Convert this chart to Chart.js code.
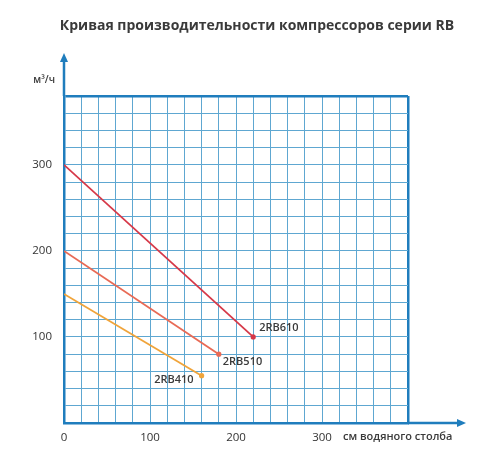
<!DOCTYPE html>
<html>
<head>
<meta charset="utf-8">
<script src="https://cdn.jsdelivr.net/npm/chart.js@4/dist/chart.umd.min.js"></script>
<style>
html,body{margin:0;padding:0;background:#fff;}
#wrap{width:500px;height:450px;position:relative;}
</style>
</head>
<body>
<div id="wrap"><canvas id="c" width="500" height="450"></canvas></div>
<script>
// ---- data ----
const chartTitle = 'Кривая производительности компрессоров серии RB';
const yUnit = 'м³/ч';
const xUnit = 'см водяного столба';
const seriesNames = ['2RB610', '2RB510', '2RB410'];
const pressure610 = [0, 220];
const flow610 = [300, 100];
const pressure510 = [0, 180];
const flow510 = [200, 80];
const pressure410 = [0, 160];
const flow410 = [150, 55];
const xTickLabels = [0, 100, 200, 300];
const yTickLabels = [100, 200, 300];

const colors = ['#d63848', '#e86a55', '#f0a43a'];
const labelOffsets = [
  {dx: 6, dy: -9, align: 'left'},
  {dx: 4, dy: 8, align: 'left'},
  {dx: -8, dy: 4, align: 'right'}
];

function pts(xs, ys) { return xs.map((x, i) => ({x: x, y: ys[i]})); }
const seriesData = [pts(pressure610, flow610), pts(pressure510, flow510), pts(pressure410, flow410)];

const gridColor = '#5ea7d1';
const frameColor = '#1f7dbd';

const decor = {
  id: 'decor',
  afterDraw(chart) {
    const ctx = chart.ctx;
    const a = chart.chartArea;
    ctx.save();
    // axis arrows
    ctx.strokeStyle = frameColor;
    ctx.fillStyle = frameColor;
    ctx.lineWidth = 2.5;
    ctx.beginPath();
    ctx.moveTo(a.left, a.top);
    ctx.lineTo(a.left, 60);
    ctx.moveTo(a.right, a.bottom);
    ctx.lineTo(460, a.bottom);
    ctx.stroke();
    ctx.beginPath();
    ctx.moveTo(a.left, 53);
    ctx.lineTo(a.left - 4, 62);
    ctx.lineTo(a.left + 4, 62);
    ctx.closePath();
    ctx.fill();
    ctx.beginPath();
    ctx.moveTo(466, a.bottom);
    ctx.lineTo(457, a.bottom - 4);
    ctx.lineTo(457, a.bottom + 4);
    ctx.closePath();
    ctx.fill();
    // title
    ctx.fillStyle = '#3a3a3a';
    ctx.font = 'bold 14px "Open Sans"';
    ctx.textAlign = 'center';
    ctx.textBaseline = 'middle';
    ctx.fillText(chartTitle, 257, 26);
    // units
    ctx.font = '600 10px "Open Sans"';
    ctx.textAlign = 'right';
    ctx.fillText(yUnit, 55, 80);
    ctx.font = '600 11px "Open Sans"';
    ctx.textAlign = 'left';
    ctx.fillText(xUnit, 343, 437);
    // series labels
    ctx.font = '600 11px "Open Sans"';
    chart.data.datasets.forEach((ds, i) => {
      const meta = chart.getDatasetMeta(i);
      const last = meta.data[meta.data.length - 1];
      const o = labelOffsets[i];
      ctx.textAlign = o.align;
      ctx.fillText(ds.label, last.x + o.dx, last.y + o.dy);
    });
    ctx.restore();
  }
};

new Chart(document.getElementById('c'), {
  type: 'scatter',
  data: {
    datasets: seriesNames.map((name, i) => ({
      label: name,
      data: seriesData[i],
      showLine: true,
      borderColor: colors[i],
      backgroundColor: colors[i],
      borderWidth: 1.8,
      pointRadius: c => c.dataIndex === seriesData[i].length - 1 ? 2.6 : 0,
      pointHoverRadius: 0,
      pointBorderWidth: 0
    }))
  },
  options: {
    responsive: false,
    animation: false,
    events: [],
    layout: {padding: {left: 0, top: 96, right: 92, bottom: 0}},
    plugins: {legend: {display: false}, tooltip: {enabled: false}, title: {display: false}},
    scales: {
      x: {
        type: 'linear', min: 0, max: 400,
        afterFit(s) { s.height = 27; },
        ticks: {
          stepSize: 20, autoSkip: false, maxRotation: 0, padding: 8,
          color: '#333', font: {family: 'Open Sans', size: 11.5},
          callback: v => xTickLabels.includes(v) ? String(v) : ''
        },
        grid: {
          drawTicks: false,
          color: c => c.tick && c.tick.value === 400 ? frameColor : gridColor,
          lineWidth: c => c.tick && c.tick.value === 400 ? 2.5 : 1
        },
        border: {color: frameColor, width: 2.5}
      },
      y: {
        type: 'linear', min: 0, max: 380,
        afterFit(s) { s.width = 64; },
        ticks: {
          stepSize: 20, autoSkip: false, padding: 12,
          color: '#333', font: {family: 'Open Sans', size: 11.5},
          callback: v => yTickLabels.includes(v) ? String(v) : ''
        },
        grid: {
          drawTicks: false,
          color: c => c.tick && c.tick.value === 380 ? frameColor : gridColor,
          lineWidth: c => c.tick && c.tick.value === 380 ? 2.5 : 1
        },
        border: {color: frameColor, width: 2.5}
      }
    }
  },
  plugins: [decor]
});
</script>
</body>
</html>
